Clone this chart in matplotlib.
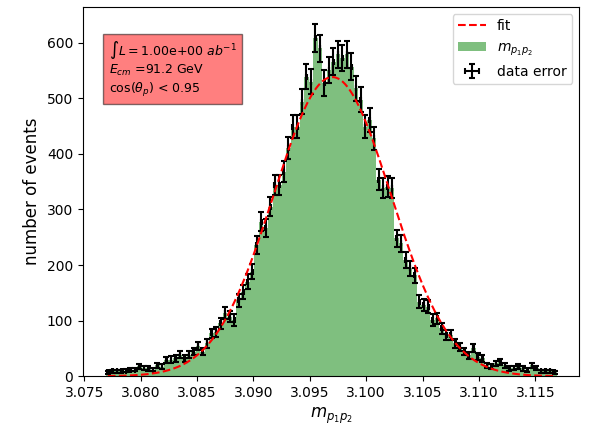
import numpy as np
import matplotlib
matplotlib.use("Agg")
import matplotlib.pyplot as plt

# histogram range and binning (J/psi mass window)
m_low = 3.0769
m_high = 3.1169
n_bins = 100

# counts per bin
counts = [
    7, 9, 9, 9, 10, 12, 12, 18, 15, 14,
    12, 20, 17, 29, 30, 32, 39, 32, 39, 44,
    55, 44, 59, 77, 80, 95, 114, 107, 101, 137,
    152, 170, 188, 236, 278, 266, 305, 344, 344, 368,
    410, 449, 449, 494, 539, 530, 608, 590, 527, 550,
    566, 579, 572, 579, 557, 518, 497, 449, 461, 428,
    353, 338, 341, 338, 248, 239, 209, 194, 182, 134,
    128, 125, 101, 104, 86, 74, 74, 59, 53, 44,
    38, 50, 35, 32, 20, 17, 23, 26, 20, 14,
    15, 17, 14, 11, 20, 15, 9, 9, 9, 7,
]

# gaussian fit parameters
fit_amp = 538
fit_mean = 3.0970
fit_sigma = 0.0052

lumi_text = r"$\int L = $1.00e+00 $ab^{-1}$"
ecm_text = r"$E_{cm}$ =91.2 GeV"
cos_text = r"cos($\theta_p$) < 0.95"

edges = np.linspace(m_low, m_high, n_bins + 1)
centers = 0.5 * (edges[1:] + edges[:-1])
counts = np.array(counts)

fig = plt.figure(figsize=(6.06, 4.28), dpi=100)
ax = fig.add_subplot(111)
fig.subplots_adjust(left=0.137, right=0.956, bottom=0.121, top=0.984)

h = ax.hist(centers, bins=edges, weights=counts, color="green", alpha=0.5,
            label=r"$m_{p_1p_2}$")
eb = ax.errorbar(centers, counts, yerr=np.sqrt(counts), xerr=0.00003,
                 fmt="none", ecolor="black", elinewidth=1.5, capsize=2,
                 capthick=1.5, label="data error")

xs = np.linspace(centers[0], centers[-1], 400)
fit_line, = ax.plot(xs, fit_amp * np.exp(-(xs - fit_mean) ** 2 / (2 * fit_sigma ** 2)),
                    "r--", label="fit")

ax.text(0.052, 0.913, "\n".join([lumi_text, ecm_text, cos_text]),
        transform=ax.transAxes, va="top", ha="left", fontsize=9,
        linespacing=1.2, bbox=dict(facecolor="red", alpha=0.5))

ax.set_xlabel(r"$m_{p_1p_2}$", fontsize=12)
ax.set_ylabel("number of events", fontsize=12)

handles, labels = ax.get_legend_handles_labels()
order = [labels.index("fit"), labels.index(r"$m_{p_1p_2}$"), labels.index("data error")]
ax.legend([handles[i] for i in order], [labels[i] for i in order], loc="upper right")

fig.savefig("out.png", dpi=100)
